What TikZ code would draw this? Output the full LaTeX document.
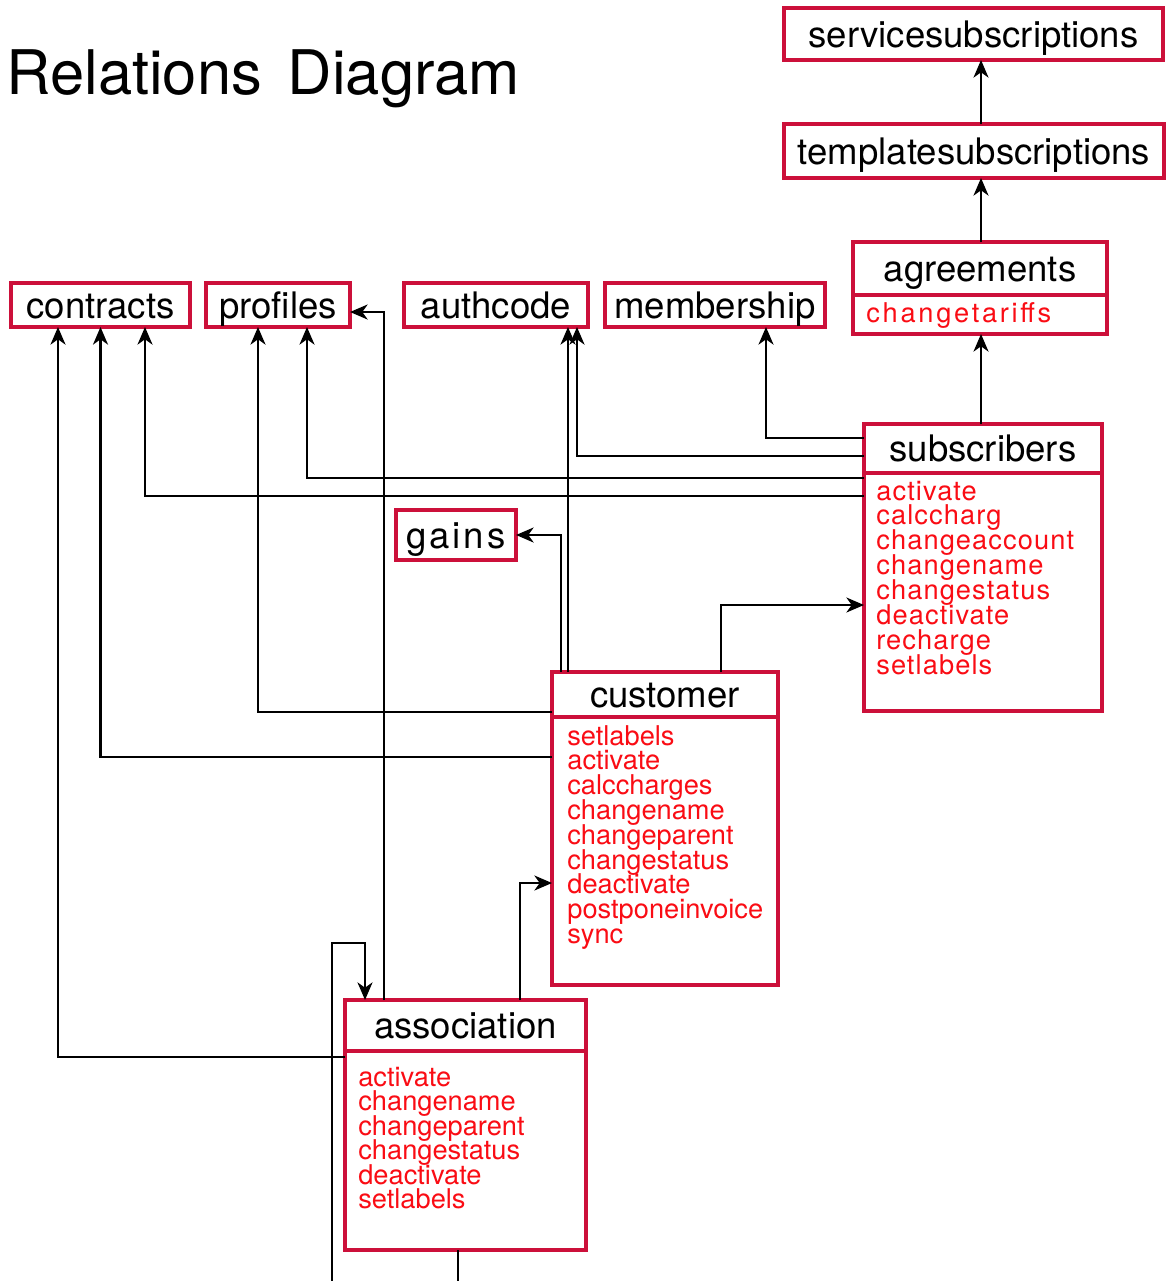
\documentclass[tikz,border=0pt]{standalone}
\usepackage{fontspec}
\setmainfont{TeX Gyre Heros}
\usetikzlibrary{arrows.meta,positioning}
\newcommand{\pxl}{0.02cm}
\newcommand{\tblfont}{\fontsize{20.8pt}{25pt}\selectfont}
\newcommand{\opfont}{\fontsize{15.5pt}{18pt}\selectfont}
\definecolor{boxred}{RGB}{204,16,58}
\definecolor{opred}{RGB}{250,12,20}

\begin{document}
\begin{tikzpicture}[x=0.02cm,y=-0.02cm,>={Stealth[length=10pt,width=8.5pt,inset=3pt]}]
\tikzset{tbl/.style={rectangle,draw=boxred,line width=1.8pt,inner sep=0pt,outer sep=0pt,font=\tblfont,text height=14.8pt,text depth=0pt},
  wh/.style 2 args={minimum width=#1*\pxl,minimum height=#2*\pxl},
  op/.style={font=\opfont,text=opred,inner sep=0pt,anchor=base west},
  rel/.style={->,line width=1.35pt,draw=black}}
\useasboundingbox (0,0) rectangle (1166,1281);
\fill[white] (0,0) rectangle (1166,1281);
\node[anchor=base west,inner sep=0pt,font=\fontsize{35pt}{40pt}\selectfont] (title) at (6,94) {Relations\hspace{0.42em}Diagram};
% tables
\node[tbl,wh={379}{52}] (svc) at (973.5,34) {servicesubscriptions};
\node[tbl,wh={380}{54}] (tpl) at (974,151) {templatesubscriptions};
\node[tbl,wh={254}{53}] (agr) at (980,268.5) {agreements};
\node[tbl,wh={254}{39},below=0pt of agr] (agrb) {};
\node[op] (agrm0) at (866,322) {\addfontfeature{LetterSpace=10}changetariffs};
\node[tbl,wh={179}{44}] (contr) at (100.5,305) {contracts};\node[tbl,wh={144}{44}] (prof) at (278,305) {profiles};
\node[tbl,wh={184}{44}] (auth) at (496,305) {authcode};\node[tbl,wh={220}{44}] (memb) at (715,305) {membership};
\node[tbl,wh={120}{50}] (gains) at (456,535) {\addfontfeature{LetterSpace=8}gains};
\node[tbl,wh={238}{49}] (subs) at (983,448.5) {subscribers};
\node[tbl,wh={238}{238},below=0pt of subs] (subsb) {};
\foreach \m [count=\i from 0] in {activate,calccharg,changeaccount,changename,changestatus,deactivate,recharge,setlabels}
  \node[op] (subsm\i) at (876,500+24.9*\i) {\addfontfeature{LetterSpace=4}\m};
\node[tbl,wh={226}{45}] (cust) at (665,694.5) {customer};
\node[tbl,wh={226}{268},below=0pt of cust] (custb) {};
\foreach \m [count=\i from 0] in {setlabels,activate,calccharges,changename,changeparent,changestatus,deactivate,postponeinvoice,sync}
  \node[op] (custm\i) at (567,745+24.8*\i) {\m};
\node[tbl,wh={241}{51}] (assoc) at (465.5,1025.5) {association};
\node[tbl,wh={241}{199},below=0pt of assoc] (assocb) {};
\foreach \m [count=\i from 0] in {activate,changename,changeparent,changestatus,deactivate,setlabels}
  \node[op] (assocm\i) at (358,1086+24.5*\i) {\m};
% relations
\draw[rel] (tpl.north-|981,0) -- (svc.south-|981,0);\draw[rel] (agr.north-|981,0) -- (tpl.south-|981,0);
\draw[rel] (subs.north-|981,0) -- (agrb.south-|981,0);
\draw[rel] (subs.west|-0,438) -| (memb.south-|766,0);\draw[rel] (subs.west|-0,456) -| (auth.south-|577,0);
\draw[rel] (subsb.west|-0,478) -| (prof.south-|307,0);\draw[rel] (subsb.west|-0,496) -| (contr.south-|145,0);
\draw[rel] (cust.north-|568,0) -- (auth.south-|568,0);\draw[rel] (cust.north-|561,0) |- (gains.east);
\draw[rel] (cust.west|-0,712) -| (prof.south-|258,0);\draw[rel] (custb.west|-0,757) -| (contr.south);
\draw[rel] (cust.north-|721,0) |- (subsb.west|-0,605);
\draw[rel] (assoc.north-|384,0) |- (prof.east|-0,312);\draw[rel] (assocb.west|-0,1057) -| (contr.south-|58,0);
\draw[rel] (assoc.north-|520,0) |- (custb.west|-0,883);
\coordinate (lp) at (458,1292);
\draw[rel] (assocb.south-|458,0) -- (lp) -| (332,943) -| (assoc.north-|365,0);
\end{tikzpicture}
\end{document}
